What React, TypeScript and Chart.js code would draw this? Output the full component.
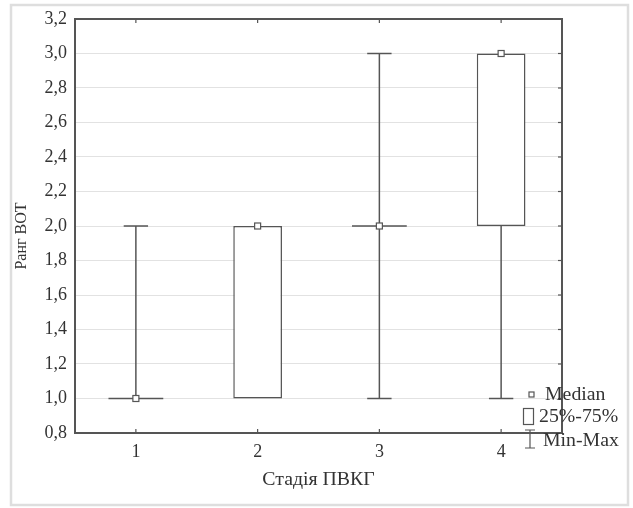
import React, { useEffect, useRef } from 'react';
import { Chart, registerables } from 'chart.js';

Chart.register(...registerables);

// ---- data ----
const categories = ['1', '2', '3', '4'];
const minValues = [1, 1, 1, 1];
const q1Values = [1, 1, 2, 2];
const medianValues = [1, 2, 2, 3];
const q3Values = [1, 2, 2, 3];
const maxValues = [2, 2, 3, 3];
const yMin = 0.8;
const yMax = 3.2;
const yStep = 0.2;
const legendLabels = ['Median', '25%-75%', 'Min-Max'];
const xTitle = 'Стадія ПВКГ';
const yTitle = 'Ранг ВОТ';

// ---- styles ----
const FONT = '"Liberation Serif", "Times New Roman", serif';
const LINE = '#555555';
const TEXT = '#333333';
const GRID = '#e2e2e2';
const STRETCH = 1.1;

function drawText(ctx: CanvasRenderingContext2D, text: string, x: number, y: number, align: CanvasTextAlign, size: number) {
  ctx.save();
  ctx.translate(x, y);
  ctx.scale(STRETCH, 1);
  ctx.font = `${size}px ${FONT}`;
  ctx.fillStyle = TEXT;
  ctx.textAlign = align;
  ctx.textBaseline = 'middle';
  ctx.fillText(text, 0, 0);
  ctx.restore();
}

const boxPlugin = {
  id: 'boxExtras',
  beforeDraw(chart: any) {
    const ctx = chart.ctx as CanvasRenderingContext2D;
    ctx.save();
    ctx.fillStyle = '#ffffff';
    ctx.fillRect(0, 0, chart.width, chart.height);
    ctx.strokeStyle = '#dedede';
    ctx.lineWidth = 2.5;
    ctx.strokeRect(11, 5, 617, 500);
    ctx.restore();
  },
  beforeDatasetsDraw(chart: any) {
    const ctx = chart.ctx as CanvasRenderingContext2D;
    const xs = chart.scales.x;
    const ys = chart.scales.y;
    const catW = xs.width / categories.length;
    const capHalf = catW * 0.1;
    ctx.save();
    ctx.strokeStyle = LINE;
    ctx.lineWidth = 1.5;
    categories.forEach((_, i) => {
      const cx = xs.getPixelForValue(i);
      const seg = (a: number, b: number) => {
        if (a === b) return;
        ctx.beginPath();
        ctx.moveTo(cx, ys.getPixelForValue(a));
        ctx.lineTo(cx, ys.getPixelForValue(b));
        ctx.stroke();
        ctx.beginPath();
        ctx.moveTo(cx - capHalf, ys.getPixelForValue(b));
        ctx.lineTo(cx + capHalf, ys.getPixelForValue(b));
        ctx.stroke();
      };
      seg(q1Values[i], minValues[i]);
      seg(q3Values[i], maxValues[i]);
    });
    ctx.restore();
  },
  afterDatasetsDraw(chart: any) {
    const ctx = chart.ctx as CanvasRenderingContext2D;
    const xs = chart.scales.x;
    const ys = chart.scales.y;
    const area = chart.chartArea;
    const catW = xs.width / categories.length;
    const degHalf = catW * 0.225;
    ctx.save();
    ctx.strokeStyle = LINE;
    ctx.lineWidth = 1.5;
    categories.forEach((_, i) => {
      const cx = xs.getPixelForValue(i);
      if (q1Values[i] === q3Values[i]) {
        const py = ys.getPixelForValue(q1Values[i]);
        ctx.beginPath();
        ctx.moveTo(cx - degHalf, py);
        ctx.lineTo(cx + degHalf, py);
        ctx.stroke();
      }
    });
    // median squares
    ctx.lineWidth = 1.2;
    categories.forEach((_, i) => {
      const cx = xs.getPixelForValue(i);
      const py = ys.getPixelForValue(medianValues[i]);
      ctx.fillStyle = '#ffffff';
      ctx.fillRect(cx - 3, py - 3, 6, 6);
      ctx.strokeRect(cx - 3, py - 3, 6, 6);
    });
    // top & right frame
    ctx.lineWidth = 2;
    ctx.beginPath();
    ctx.moveTo(area.left, area.top);
    ctx.lineTo(area.right, area.top);
    ctx.lineTo(area.right, area.bottom);
    ctx.stroke();
    // inward ticks
    ctx.lineWidth = 1.2;
    categories.forEach((_, i) => {
      const cx = xs.getPixelForValue(i);
      ctx.beginPath();
      ctx.moveTo(cx, area.top);
      ctx.lineTo(cx, area.top + 4);
      ctx.moveTo(cx, area.bottom);
      ctx.lineTo(cx, area.bottom - 4);
      ctx.stroke();
    });
    ys.ticks.forEach((t: any) => {
      const py = ys.getPixelForValue(t.value);
      ctx.beginPath();
      ctx.moveTo(area.right, py);
      ctx.lineTo(area.right - 4, py);
      ctx.stroke();
    });
    ctx.restore();
  },
  afterDraw(chart: any) {
    const ctx = chart.ctx as CanvasRenderingContext2D;
    const area = chart.chartArea;
    // axis titles
    drawText(ctx, xTitle, (area.left + area.right) / 2, 480, 'center', 18);
    ctx.save();
    ctx.translate(22, 236);
    ctx.rotate(-Math.PI / 2);
    ctx.font = `16px ${FONT}`;
    ctx.fillStyle = TEXT;
    ctx.textAlign = 'center';
    ctx.textBaseline = 'middle';
    ctx.fillText(yTitle, 0, 0);
    ctx.restore();
    // legend
    ctx.save();
    ctx.strokeStyle = LINE;
    ctx.fillStyle = '#ffffff';
    ctx.lineWidth = 1.2;
    ctx.fillRect(529, 392, 5, 5);
    ctx.strokeRect(529, 392, 5, 5);
    ctx.strokeRect(523.5, 408.5, 10, 16);
    ctx.beginPath();
    ctx.moveTo(530, 430);
    ctx.lineTo(530, 448);
    ctx.moveTo(525, 430);
    ctx.lineTo(535, 430);
    ctx.moveTo(525, 448);
    ctx.lineTo(535, 448);
    ctx.stroke();
    ctx.restore();
    drawText(ctx, legendLabels[0], 545, 395, 'left', 18);
    drawText(ctx, legendLabels[1], 539, 417, 'left', 18);
    drawText(ctx, legendLabels[2], 543, 441, 'left', 18);
  },
};

export default function App() {
  const ref = useRef<HTMLCanvasElement>(null);
  useEffect(() => {
    if (!ref.current) return;
    const chart = new Chart(ref.current, {
      type: 'bar',
      data: {
        labels: categories,
        datasets: [
          {
            label: '25%-75%',
            data: q1Values.map((v, i) => [v, q3Values[i]]) as any,
            backgroundColor: '#ffffff',
            borderColor: LINE,
            borderWidth: 1.5,
            borderSkipped: false,
            barPercentage: 0.4,
            categoryPercentage: 1.0,
          },
        ],
      },
      options: {
        responsive: false,
        animation: false,
        layout: { padding: { left: 12, top: 19, right: 71, bottom: 0 } },
        plugins: { legend: { display: false }, tooltip: { enabled: false } },
        scales: {
          x: {
            type: 'category',
            offset: true,
            grid: { display: false, drawTicks: false },
            border: { color: LINE, width: 2 },
            ticks: { color: TEXT, font: { family: FONT, size: 18 }, padding: 8 },
            afterFit: (s: any) => {
              s.height = 75;
            },
          },
          y: {
            type: 'linear',
            min: yMin,
            max: yMax,
            grid: { color: GRID, drawTicks: false, lineWidth: 1 },
            border: { color: LINE, width: 2 },
            ticks: {
              stepSize: yStep,
              color: TEXT,
              font: { family: FONT, size: 18 },
              padding: 8,
              callback: (v: any) => Number(v).toFixed(1).replace('.', ','),
            },
            afterFit: (s: any) => {
              s.width = 63;
            },
          },
        },
      },
      plugins: [boxPlugin],
    });
    return () => chart.destroy();
  }, []);
  return (
    <div style={{ position: 'absolute', left: 0, top: 0, width: 633, height: 508 }}>
      <canvas ref={ref} width={633} height={508} />
    </div>
  );
}
